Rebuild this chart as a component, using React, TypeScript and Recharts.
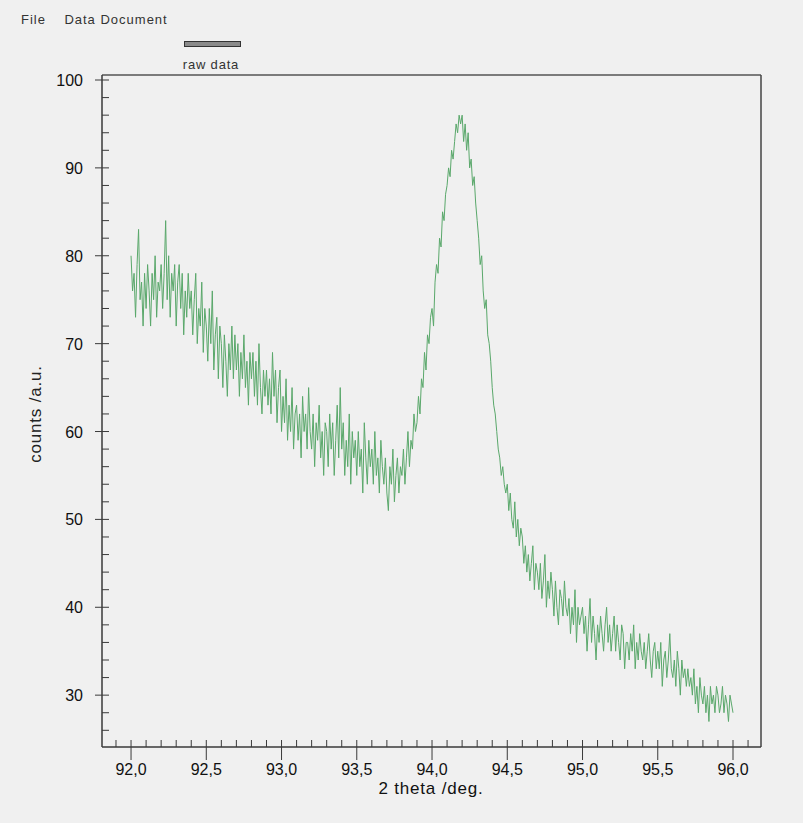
import React from 'react';
import { LineChart, Line, XAxis, YAxis, ReferenceLine } from 'recharts';

// Scan grid: 2 theta from 92.00 deg in 0.01 deg steps
const THETA_START = 92.0;
const THETA_STEP = 0.01;

// Raw detector counts, one value per 0.01 deg
const rawCounts: number[] = [
  80, 76, 78, 73, 79, 83, 75, 77, 72, 78,
  74, 79, 76, 72, 78, 75, 80, 73, 77, 76,
  79, 74, 78, 84, 75, 80, 73, 78, 76, 79,
  72, 77, 79, 74, 78, 71, 76, 73, 78, 74,
  76, 71, 75, 78, 70, 74, 72, 77, 69, 74,
  72, 68, 74, 70, 76, 67, 71, 73, 66, 72,
  70, 65, 71, 68, 64, 70, 67, 72, 66, 71,
  67, 70, 64, 69, 66, 71, 65, 68, 63, 69,
  66, 69, 64, 68, 63, 70, 65, 62, 67, 64,
  67, 63, 66, 62, 69, 64, 67, 61, 65, 67,
  60, 64, 61, 66, 59, 63, 60, 65, 58, 62,
  63, 59, 62, 57, 64, 60, 62, 58, 65, 60,
  58, 62, 56, 61, 59, 63, 57, 60, 55, 61,
  60, 56, 62, 58, 61, 55, 59, 63, 57, 65,
  58, 61, 55, 59, 56, 62, 54, 60, 57, 59,
  55, 60, 56, 58, 53, 61, 57, 54, 59, 56,
  58, 54, 60, 55, 57, 53, 59, 56, 54, 57,
  53, 51, 56, 54, 58, 52, 55, 57, 53, 56,
  55, 58, 54, 57, 60, 56, 59, 58, 62, 60,
  61, 64, 62, 66, 65, 69, 67, 71, 70, 73,
  74, 72, 77, 79, 78, 82, 81, 85, 84, 87,
  88, 90, 89, 92, 91, 93, 95, 94, 96, 95,
  96, 93, 95, 92, 94, 90, 91, 88, 89, 86,
  84, 82, 79, 80, 76, 74, 75, 71, 70, 68,
  65, 63, 62, 60, 58, 57, 55, 56, 54, 53,
  54, 51, 53, 50, 49, 52, 48, 50, 47, 49,
  48, 45, 47, 44, 46, 43, 45, 47, 42, 45,
  44, 42, 45, 41, 43, 46, 40, 43, 41, 44,
  42, 39, 43, 40, 38, 42, 41, 39, 43, 40,
  39, 41, 37, 40, 38, 42, 36, 40, 38, 39,
  40, 37, 39, 35, 38, 41, 36, 39, 37, 34,
  38, 36, 39, 37, 35, 38, 40, 36, 38, 35,
  37, 39, 35, 38, 36, 34, 38, 37, 33, 36,
  36, 34, 37, 35, 38, 33, 36, 34, 37, 35,
  34, 36, 33, 35, 37, 34, 32, 35, 36, 33,
  35, 33, 36, 31, 34, 35, 32, 34, 37, 33,
  32, 34, 31, 35, 33, 30, 34, 32, 33, 31,
  33, 31, 32, 30, 33, 29, 31, 28, 32, 30,
  29, 31, 28, 30, 27, 31, 29, 30, 28, 31,
  30, 28, 29, 31, 28, 30, 29, 27, 30, 29,
  28,
];

// Axis ticks: minor every 0.1 deg / 2 counts, labelled majors every 0.5 deg / 10 counts
const thetaTicks: number[] = [
  91.9, 92.0, 92.1, 92.2, 92.3, 92.4, 92.5, 92.6, 92.7, 92.8, 92.9,
  93.0, 93.1, 93.2, 93.3, 93.4, 93.5, 93.6, 93.7, 93.8, 93.9,
  94.0, 94.1, 94.2, 94.3, 94.4, 94.5, 94.6, 94.7, 94.8, 94.9,
  95.0, 95.1, 95.2, 95.3, 95.4, 95.5, 95.6, 95.7, 95.8, 95.9,
  96.0, 96.1,
];
const thetaLabels: number[] = [92.0, 92.5, 93.0, 93.5, 94.0, 94.5, 95.0, 95.5, 96.0];
const countTicks: number[] = [
  26, 28, 30, 32, 34, 36, 38, 40, 42, 44, 46, 48, 50, 52, 54, 56, 58, 60,
  62, 64, 66, 68, 70, 72, 74, 76, 78, 80, 82, 84, 86, 88, 90, 92, 94, 96, 98, 100,
];
const countLabels: number[] = [30, 40, 50, 60, 70, 80, 90, 100];

const data = rawCounts.map((c, i) => ({
  theta: Math.round((THETA_START + i * THETA_STEP) * 100) / 100,
  counts: c,
}));

const X_DOMAIN: [number, number] = [91.807, 96.186];
const Y_DOMAIN: [number, number] = [24.1, 100.57];

const AXIS = '#3a3a3a';
const FONT = '"Liberation Sans", Arial, sans-serif';

const isIn = (list: number[], v: number) => list.some((t) => Math.abs(t - v) < 1e-6);
const fmtTheta = (v: number) => v.toFixed(1).replace('.', ',');

function ThetaTick(props: any) {
  const { x, y, payload } = props;
  const v = payload.value as number;
  const major = isIn(thetaLabels, v);
  return (
    <g>
      <line x1={x} x2={x} y1={y} y2={y - 7} stroke={AXIS} strokeWidth={1} />
      {major && <line x1={x} x2={x} y1={y} y2={y + 13} stroke={AXIS} strokeWidth={1} />}
      {major && (
        <text x={x} y={y + 28} textAnchor="middle" fontSize={16} fill="#111" fontFamily={FONT}>
          {fmtTheta(v)}
        </text>
      )}
    </g>
  );
}

function CountTick(props: any) {
  const { x, y, payload } = props;
  const v = payload.value as number;
  const major = isIn(countLabels, v);
  return (
    <g>
      <line x1={x} x2={x + 7} y1={y} y2={y} stroke={AXIS} strokeWidth={1} />
      {major && <line x1={x - 7} x2={x} y1={y} y2={y} stroke={AXIS} strokeWidth={1} />}
      {major && (
        <text x={x - 19} y={y + 6} textAnchor="end" fontSize={16} fill="#111" fontFamily={FONT}>
          {v}
        </text>
      )}
    </g>
  );
}

export default function App() {
  return (
    <div
      style={{
        position: 'absolute',
        left: 0,
        top: 0,
        width: 803,
        height: 823,
        background: '#f0f0f0',
        fontFamily: FONT,
        overflow: 'hidden',
      }}
    >
      <div style={{ position: 'absolute', left: 21, top: 12, fontSize: 13, color: '#333', letterSpacing: 1 }}>
        File&nbsp;&nbsp;&nbsp;&nbsp;Data Document
      </div>
      <div
        style={{
          position: 'absolute',
          left: 184,
          top: 41,
          width: 55,
          height: 4,
          background: '#8a8a8a',
          border: '1px solid #333',
        }}
      />
      <div
        style={{
          position: 'absolute',
          left: 170,
          top: 57,
          width: 82,
          textAlign: 'center',
          fontSize: 13,
          letterSpacing: 0.8,
          color: '#333',
        }}
      >
        raw data
      </div>

      <LineChart
        width={803}
        height={823}
        data={data}
        margin={{ top: 75, right: 42, bottom: 16, left: 22 }}
      >
        <XAxis
          type="number"
          dataKey="theta"
          domain={X_DOMAIN}
          allowDataOverflow
          ticks={thetaTicks}
          interval={0}
          height={60}
          tickSize={0}
          tickMargin={0}
          tickLine={false}
          axisLine={{ stroke: AXIS, strokeWidth: 1.5 }}
          tick={ThetaTick}
        />
        <YAxis
          type="number"
          domain={Y_DOMAIN}
          allowDataOverflow
          ticks={countTicks}
          interval={0}
          width={80}
          tickSize={0}
          tickMargin={0}
          tickLine={false}
          axisLine={{ stroke: AXIS, strokeWidth: 1.5 }}
          tick={CountTick}
        />
        <ReferenceLine y={Y_DOMAIN[1]} stroke="#555" strokeWidth={1.5} ifOverflow="visible" />
        <ReferenceLine x={X_DOMAIN[1]} stroke="#444" strokeWidth={1.5} ifOverflow="visible" />
        <Line
          type="linear"
          dataKey="counts"
          stroke="#5aa86b"
          strokeWidth={1}
          dot={false}
          isAnimationActive={false}
        />
      </LineChart>

      <div
        style={{
          position: 'absolute',
          left: 311,
          top: 779,
          width: 240,
          textAlign: 'center',
          fontSize: 17,
          letterSpacing: 0.8,
          color: '#111',
        }}
      >
        2 theta /deg.
      </div>
      <div
        style={{
          position: 'absolute',
          left: 36,
          top: 414,
          transform: 'translate(-50%, -50%) rotate(-90deg)',
          whiteSpace: 'nowrap',
          fontSize: 17,
          letterSpacing: 0.8,
          color: '#222',
        }}
      >
        counts /a.u.
      </div>
    </div>
  );
}
